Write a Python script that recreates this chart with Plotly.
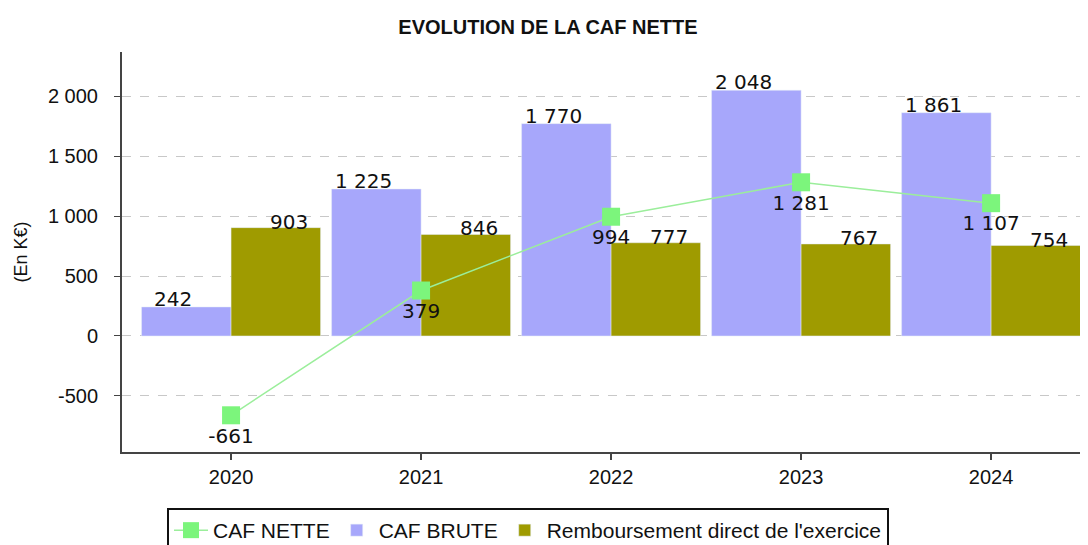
import plotly.graph_objects as go

years = ["2020", "2021", "2022", "2023", "2024"]
caf_brute = [242, 1225, 1770, 2048, 1861]
remboursement = [903, 846, 777, 767, 754]
caf_nette = [-661, 379, 994, 1281, 1107]
tick_vals = [-500, 0, 500, 1000, 1500, 2000]
tick_text = ["-500", "0", "500", "1 000", "1 500", "2 000"]


def fmt(v):
    s = f"{abs(v):,}".replace(",", " ")
    return ("-" if v < 0 else "") + s


C_BRUTE = "#A7A7FB"
C_REMB = "#9F9B00"
C_NETTE = "#7CF57C"
AX_FONT = "Liberation Sans, Arial"
LBL_FONT = dict(family="DejaVu Sans", size=20, color="#111")

xpos = list(range(len(years)))

fig = go.Figure()
fig.add_trace(go.Bar(x=xpos, y=caf_brute, name="CAF BRUTE", marker_color=C_BRUTE,
                     legendrank=2))
fig.add_trace(go.Bar(x=xpos, y=remboursement, name="Remboursement direct de l'exercice",
                     marker_color=C_REMB, legendrank=3))
fig.add_trace(go.Scatter(
    x=xpos, y=caf_nette, name="CAF NETTE", mode="lines+markers+text",
    line=dict(color="#9BEE9B", width=1.5),
    marker=dict(symbol="square", size=18, color=C_NETTE),
    text=[fmt(v) for v in caf_nette], textposition="bottom center",
    textfont=LBL_FONT, cliponaxis=False, legendrank=1,
))

for i, v in zip(xpos, caf_brute):
    fig.add_annotation(x=i, y=v, xref="x", yref="y", text=fmt(v), showarrow=False,
                       xshift=-58, yshift=8, yanchor="middle", font=LBL_FONT)
for i, v in zip(xpos, remboursement):
    fig.add_annotation(x=i, y=v, xref="x", yref="y", text=fmt(v), showarrow=False,
                       xshift=58, yshift=6, yanchor="middle", font=LBL_FONT)

fig.update_layout(
    width=1080, height=537,
    margin=dict(l=114, r=0, t=44, b=93, autoexpand=False),
    paper_bgcolor="white", plot_bgcolor="white",
    barmode="group", bargap=0.058, bargroupgap=0,
    title=dict(text="<b>EVOLUTION DE LA CAF NETTE</b>", x=0.5, xref="container",
               xanchor="center", y=0.9646, yref="container", yanchor="middle",
               font=dict(family=AX_FONT, size=20, color="#111")),
    showlegend=True,
    legend=dict(orientation="h", x=0.0466, xanchor="left", y=-0.14, yanchor="top",
                bordercolor="#111", borderwidth=2, bgcolor="white",
                font=dict(family=AX_FONT, size=21, color="#111"),
                itemwidth=34),
    xaxis=dict(range=[-0.574, 4.51], tickvals=xpos, ticktext=years,
               showline=True, linecolor="#444", linewidth=2,
               ticks="outside", ticklen=6, tickcolor="#444", tickwidth=1.5,
               tickfont=dict(family=AX_FONT, size=20, color="#111"),
               showgrid=False, zeroline=False),
    yaxis=dict(range=[-967, 2367], tickvals=tick_vals, ticktext=tick_text,
               showline=True, linecolor="#444", linewidth=2,
               ticks="outside", ticklen=6, tickcolor="#444", ticklabelstandoff=12,
               tickfont=dict(family=AX_FONT, size=20, color="#111"),
               showgrid=True, gridcolor="#c8c8c8", griddash="dash", gridwidth=1.2,
               zeroline=False,
               title=dict(text="(En K€)", standoff=16,
                          font=dict(family=AX_FONT, size=18, color="#111"))),
)

fig.write_html("out.html")
